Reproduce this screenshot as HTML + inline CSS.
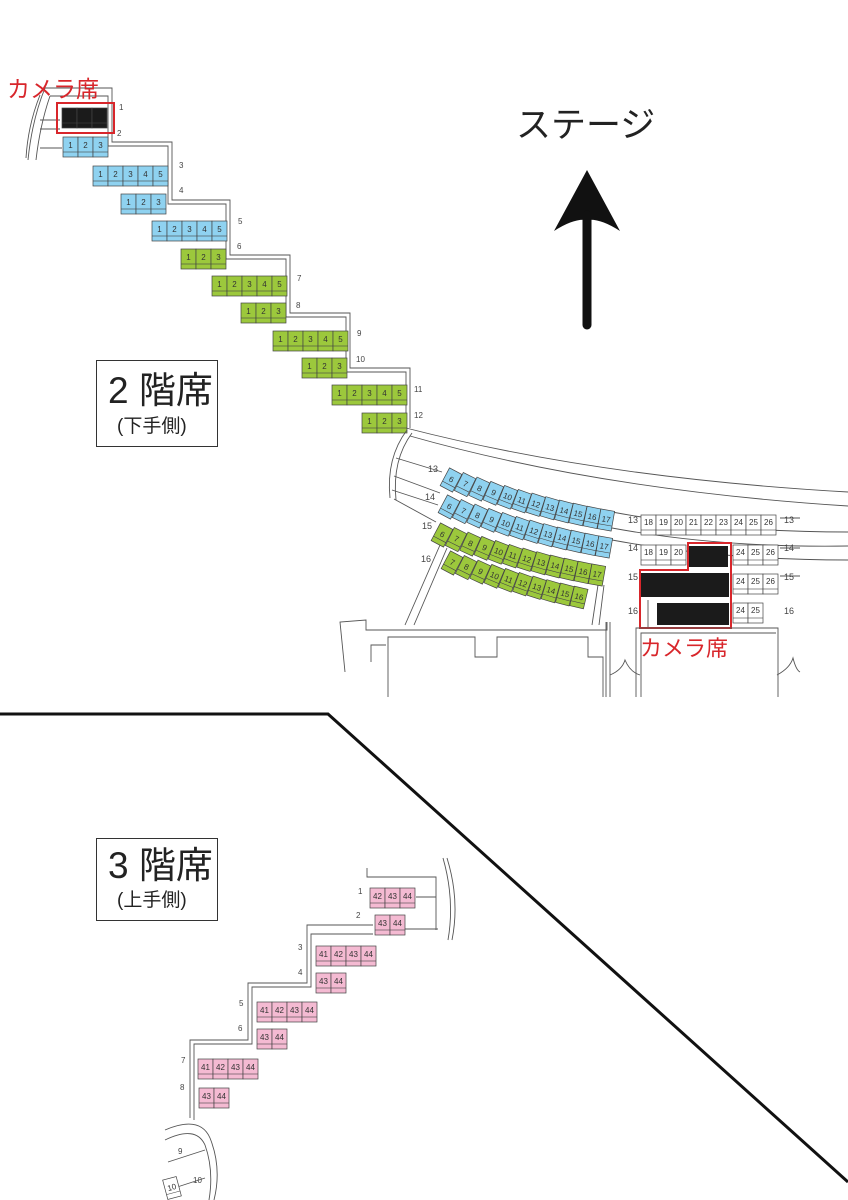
<!DOCTYPE html>
<html><head><meta charset="utf-8"><style>
html,body{margin:0;padding:0;background:#fff}
svg{display:block}
text{font-family:"Liberation Sans","Noto Sans CJK JP",sans-serif}
.s text{font-size:8px;fill:#333;text-anchor:middle}
.b{fill:#8fd2f0}.g{fill:#9cc83c}.p{fill:#f4bad2}.w{fill:#fff}.k{fill:#1b1b1b}
.ln{fill:none;stroke:#555;stroke-width:.9}
.lb{font-size:8px;fill:#444}
</style></head><body>
<svg width="848" height="1200" viewBox="0 0 848 1200" xmlns="http://www.w3.org/2000/svg">
<defs>
<g id="st"><rect x="0" y="0" width="15" height="20" stroke="#444" stroke-width=".7"/><path d="M0 15H15" stroke="#444" stroke-width=".6" fill="none"/></g>
<g id="sc"><rect x="-7" y="-10" width="14" height="20" stroke="#444" stroke-width=".7"/><path d="M-7 5H7" stroke="#444" stroke-width=".6" fill="none"/></g>
</defs>

<path class="ln" d="M44 88H112V142H172V200H230V255H290V313H350V368H410V428"/>
<path class="ln" d="M50 96H108V146H168V204H226V259H286V317H346V372H406V432"/>
<path class="ln" d="M45 88Q32 120 28 160M40 95Q28 125 26 158M50 96Q40 125 36 160"/>
<path class="ln" d="M40 120H60M40 129H60M40 148H62"/>

<text x="7" y="97" font-size="23" fill="#d8262b">カメラ席</text>

<g class="s k"><use href="#st" x="62" y="108"/><use href="#st" x="77" y="108"/><use href="#st" x="92" y="108"/></g>
<rect x="57" y="103" width="57" height="30" fill="none" stroke="#d8262b" stroke-width="2"/>
<g class="s b">
<g transform="translate(63,137)"><use href="#st"/><text x="7.5" y="11">1</text></g>
<g transform="translate(78,137)"><use href="#st"/><text x="7.5" y="11">2</text></g>
<g transform="translate(93,137)"><use href="#st"/><text x="7.5" y="11">3</text></g>
<g transform="translate(93,166)"><use href="#st"/><text x="7.5" y="11">1</text></g>
<g transform="translate(108,166)"><use href="#st"/><text x="7.5" y="11">2</text></g>
<g transform="translate(123,166)"><use href="#st"/><text x="7.5" y="11">3</text></g>
<g transform="translate(138,166)"><use href="#st"/><text x="7.5" y="11">4</text></g>
<g transform="translate(153,166)"><use href="#st"/><text x="7.5" y="11">5</text></g>
<g transform="translate(121,194)"><use href="#st"/><text x="7.5" y="11">1</text></g>
<g transform="translate(136,194)"><use href="#st"/><text x="7.5" y="11">2</text></g>
<g transform="translate(151,194)"><use href="#st"/><text x="7.5" y="11">3</text></g>
<g transform="translate(152,221)"><use href="#st"/><text x="7.5" y="11">1</text></g>
<g transform="translate(167,221)"><use href="#st"/><text x="7.5" y="11">2</text></g>
<g transform="translate(182,221)"><use href="#st"/><text x="7.5" y="11">3</text></g>
<g transform="translate(197,221)"><use href="#st"/><text x="7.5" y="11">4</text></g>
<g transform="translate(212,221)"><use href="#st"/><text x="7.5" y="11">5</text></g>
</g>
<g class="s g">
<g transform="translate(181,249)"><use href="#st"/><text x="7.5" y="11">1</text></g>
<g transform="translate(196,249)"><use href="#st"/><text x="7.5" y="11">2</text></g>
<g transform="translate(211,249)"><use href="#st"/><text x="7.5" y="11">3</text></g>
<g transform="translate(212,276)"><use href="#st"/><text x="7.5" y="11">1</text></g>
<g transform="translate(227,276)"><use href="#st"/><text x="7.5" y="11">2</text></g>
<g transform="translate(242,276)"><use href="#st"/><text x="7.5" y="11">3</text></g>
<g transform="translate(257,276)"><use href="#st"/><text x="7.5" y="11">4</text></g>
<g transform="translate(272,276)"><use href="#st"/><text x="7.5" y="11">5</text></g>
<g transform="translate(241,303)"><use href="#st"/><text x="7.5" y="11">1</text></g>
<g transform="translate(256,303)"><use href="#st"/><text x="7.5" y="11">2</text></g>
<g transform="translate(271,303)"><use href="#st"/><text x="7.5" y="11">3</text></g>
<g transform="translate(273,331)"><use href="#st"/><text x="7.5" y="11">1</text></g>
<g transform="translate(288,331)"><use href="#st"/><text x="7.5" y="11">2</text></g>
<g transform="translate(303,331)"><use href="#st"/><text x="7.5" y="11">3</text></g>
<g transform="translate(318,331)"><use href="#st"/><text x="7.5" y="11">4</text></g>
<g transform="translate(333,331)"><use href="#st"/><text x="7.5" y="11">5</text></g>
<g transform="translate(302,358)"><use href="#st"/><text x="7.5" y="11">1</text></g>
<g transform="translate(317,358)"><use href="#st"/><text x="7.5" y="11">2</text></g>
<g transform="translate(332,358)"><use href="#st"/><text x="7.5" y="11">3</text></g>
<g transform="translate(332,385)"><use href="#st"/><text x="7.5" y="11">1</text></g>
<g transform="translate(347,385)"><use href="#st"/><text x="7.5" y="11">2</text></g>
<g transform="translate(362,385)"><use href="#st"/><text x="7.5" y="11">3</text></g>
<g transform="translate(377,385)"><use href="#st"/><text x="7.5" y="11">4</text></g>
<g transform="translate(392,385)"><use href="#st"/><text x="7.5" y="11">5</text></g>
<g transform="translate(362,413)"><use href="#st"/><text x="7.5" y="11">1</text></g>
<g transform="translate(377,413)"><use href="#st"/><text x="7.5" y="11">2</text></g>
<g transform="translate(392,413)"><use href="#st"/><text x="7.5" y="11">3</text></g>
</g>
<g class="lb">
<text x="119" y="110">1</text><text x="117" y="136">2</text><text x="179" y="168">3</text><text x="179" y="193">4</text>
<text x="238" y="224">5</text><text x="237" y="249">6</text><text x="297" y="281">7</text><text x="296" y="308">8</text>
<text x="357" y="336">9</text><text x="356" y="362">10</text><text x="414" y="392">11</text><text x="414" y="418">12</text>
</g>

<text x="516" y="137" font-size="35" fill="#222">ステージ</text>
<path d="M587 170L620 231Q600 218 587 220Q574 218 554 231Z" fill="#111"/>
<line x1="587" y1="215" x2="587" y2="325" stroke="#111" stroke-width="9" stroke-linecap="round"/>

<rect x="96.5" y="360.5" width="121" height="86" fill="#fff" stroke="#333" stroke-width="1"/>
<text x="108" y="403" font-size="37" fill="#222">2 階席</text>
<text x="117" y="432" font-size="19" fill="#222">(下手側)</text>

<path class="ln" d="M406 428Q600 478 848 492"/>
<path class="ln" d="M410 436Q600 490 848 506"/>
<path class="ln" d="M407 430Q386 458 390 498M412 433Q392 460 396 500"/>
<path class="ln" d="M396 458L442 472M394 476L440 493M392 490L438 505M394 499L436 522"/>
<path class="ln" d="M612 512Q720 532 848 532M612 540Q720 560 848 560M612 528Q720 548 848 546"/>
<path class="ln" d="M780 518H800M780 548H800M780 576H800"/>
<path class="ln" d="M440 545L405 625M447 548L414 625M598 585L592 625M604 585L599 625"/>

<g class="s b">
<g transform="translate(451,480) rotate(28)"><use href="#sc"/><text y="2">6</text></g>
<g transform="translate(465.1,484.6) rotate(26.4)"><use href="#sc"/><text y="2">7</text></g>
<g transform="translate(479.2,489.1) rotate(24.7)"><use href="#sc"/><text y="2">8</text></g>
<g transform="translate(493.3,493.3) rotate(23.1)"><use href="#sc"/><text y="2">9</text></g>
<g transform="translate(507.4,497.3) rotate(21.5)"><use href="#sc"/><text y="2">10</text></g>
<g transform="translate(521.5,501.2) rotate(19.8)"><use href="#sc"/><text y="2">11</text></g>
<g transform="translate(535.6,504.8) rotate(18.2)"><use href="#sc"/><text y="2">12</text></g>
<g transform="translate(549.7,508.2) rotate(16.5)"><use href="#sc"/><text y="2">13</text></g>
<g transform="translate(563.8,511.5) rotate(14.9)"><use href="#sc"/><text y="2">14</text></g>
<g transform="translate(577.9,514.5) rotate(13.3)"><use href="#sc"/><text y="2">15</text></g>
<g transform="translate(592,517.4) rotate(11.6)"><use href="#sc"/><text y="2">16</text></g>
<g transform="translate(606,520) rotate(10)"><use href="#sc"/><text y="2">17</text></g>
<g transform="translate(449,507) rotate(28)"><use href="#sc"/><text y="2">6</text></g>
<g transform="translate(463.1,511.6) rotate(26.4)"><use href="#sc"/><text y="2">7</text></g>
<g transform="translate(477.2,516.1) rotate(24.7)"><use href="#sc"/><text y="2">8</text></g>
<g transform="translate(491.3,520.3) rotate(23.1)"><use href="#sc"/><text y="2">9</text></g>
<g transform="translate(505.4,524.3) rotate(21.5)"><use href="#sc"/><text y="2">10</text></g>
<g transform="translate(519.5,528.2) rotate(19.8)"><use href="#sc"/><text y="2">11</text></g>
<g transform="translate(533.6,531.8) rotate(18.2)"><use href="#sc"/><text y="2">12</text></g>
<g transform="translate(547.7,535.2) rotate(16.5)"><use href="#sc"/><text y="2">13</text></g>
<g transform="translate(561.8,538.5) rotate(14.9)"><use href="#sc"/><text y="2">14</text></g>
<g transform="translate(575.9,541.5) rotate(13.3)"><use href="#sc"/><text y="2">15</text></g>
<g transform="translate(590,544.4) rotate(11.6)"><use href="#sc"/><text y="2">16</text></g>
<g transform="translate(604,547) rotate(10)"><use href="#sc"/><text y="2">17</text></g>
</g>
<g class="s g">
<g transform="translate(442,535) rotate(28)"><use href="#sc"/><text y="2">6</text></g>
<g transform="translate(456.1,539.6) rotate(26.4)"><use href="#sc"/><text y="2">7</text></g>
<g transform="translate(470.2,544.1) rotate(24.7)"><use href="#sc"/><text y="2">8</text></g>
<g transform="translate(484.3,548.3) rotate(23.1)"><use href="#sc"/><text y="2">9</text></g>
<g transform="translate(498.4,552.3) rotate(21.5)"><use href="#sc"/><text y="2">10</text></g>
<g transform="translate(512.5,556.2) rotate(19.8)"><use href="#sc"/><text y="2">11</text></g>
<g transform="translate(526.6,559.8) rotate(18.2)"><use href="#sc"/><text y="2">12</text></g>
<g transform="translate(540.7,563.2) rotate(16.5)"><use href="#sc"/><text y="2">13</text></g>
<g transform="translate(554.8,566.5) rotate(14.9)"><use href="#sc"/><text y="2">14</text></g>
<g transform="translate(568.9,569.5) rotate(13.3)"><use href="#sc"/><text y="2">15</text></g>
<g transform="translate(583,572.4) rotate(11.6)"><use href="#sc"/><text y="2">16</text></g>
<g transform="translate(597,575) rotate(10)"><use href="#sc"/><text y="2">17</text></g>
<g transform="translate(452,563) rotate(28)"><use href="#sc"/><text y="2">7</text></g>
<g transform="translate(466.1,567.6) rotate(26.4)"><use href="#sc"/><text y="2">8</text></g>
<g transform="translate(480.2,572.1) rotate(24.7)"><use href="#sc"/><text y="2">9</text></g>
<g transform="translate(494.3,576.3) rotate(23.1)"><use href="#sc"/><text y="2">10</text></g>
<g transform="translate(508.4,580.3) rotate(21.5)"><use href="#sc"/><text y="2">11</text></g>
<g transform="translate(522.5,584.2) rotate(19.8)"><use href="#sc"/><text y="2">12</text></g>
<g transform="translate(536.6,587.8) rotate(18.2)"><use href="#sc"/><text y="2">13</text></g>
<g transform="translate(550.7,591.2) rotate(16.5)"><use href="#sc"/><text y="2">14</text></g>
<g transform="translate(564.8,594.5) rotate(14.9)"><use href="#sc"/><text y="2">15</text></g>
<g transform="translate(578.9,597.5) rotate(13.3)"><use href="#sc"/><text y="2">16</text></g>
</g>
<g class="lb">
<text x="428" y="472" font-size="9">13</text><text x="425" y="500" font-size="9">14</text>
<text x="422" y="529" font-size="9">15</text><text x="421" y="562" font-size="9">16</text>
<text x="628" y="523" font-size="9">13</text><text x="784" y="523" font-size="9">13</text>
<text x="628" y="551" font-size="9">14</text><text x="784" y="551" font-size="9">14</text>
<text x="628" y="580" font-size="9">15</text><text x="784" y="580" font-size="9">15</text>
<text x="628" y="614" font-size="9">16</text><text x="784" y="614" font-size="9">16</text>
</g>

<g class="s w">
<g transform="translate(641,515)"><use href="#st"/><text x="7.5" y="10">18</text></g>
<g transform="translate(656,515)"><use href="#st"/><text x="7.5" y="10">19</text></g>
<g transform="translate(671,515)"><use href="#st"/><text x="7.5" y="10">20</text></g>
<g transform="translate(686,515)"><use href="#st"/><text x="7.5" y="10">21</text></g>
<g transform="translate(701,515)"><use href="#st"/><text x="7.5" y="10">22</text></g>
<g transform="translate(716,515)"><use href="#st"/><text x="7.5" y="10">23</text></g>
<g transform="translate(731,515)"><use href="#st"/><text x="7.5" y="10">24</text></g>
<g transform="translate(746,515)"><use href="#st"/><text x="7.5" y="10">25</text></g>
<g transform="translate(761,515)"><use href="#st"/><text x="7.5" y="10">26</text></g>
<g transform="translate(641,545)"><use href="#st"/><text x="7.5" y="10">18</text></g>
<g transform="translate(656,545)"><use href="#st"/><text x="7.5" y="10">19</text></g>
<g transform="translate(671,545)"><use href="#st"/><text x="7.5" y="10">20</text></g>
<g transform="translate(733,545)"><use href="#st"/><text x="7.5" y="10">24</text></g>
<g transform="translate(748,545)"><use href="#st"/><text x="7.5" y="10">25</text></g>
<g transform="translate(763,545)"><use href="#st"/><text x="7.5" y="10">26</text></g>
<g transform="translate(733,574)"><use href="#st"/><text x="7.5" y="10">24</text></g>
<g transform="translate(748,574)"><use href="#st"/><text x="7.5" y="10">25</text></g>
<g transform="translate(763,574)"><use href="#st"/><text x="7.5" y="10">26</text></g>
<g transform="translate(733,603)"><use href="#st"/><text x="7.5" y="10">24</text></g>
<g transform="translate(748,603)"><use href="#st"/><text x="7.5" y="10">25</text></g>
</g>
<rect x="688" y="546" width="40" height="21" fill="#1b1b1b"/>
<rect x="641" y="573" width="88" height="24" fill="#1b1b1b"/>
<rect x="657" y="603" width="72" height="22" fill="#1b1b1b"/>
<path class="ln" d="M648 600V628"/>
<path d="M688 543H731V628H640V570H688Z" fill="none" stroke="#d8262b" stroke-width="2"/>
<text x="640" y="656" font-size="22" fill="#d8262b">カメラ席</text>

<path class="ln" d="M345 672L340 622L366 620L366 630H607V622"/>
<path class="ln" d="M388 697V637H475V657H497V637H588V657H603V697"/>
<path class="ln" d="M371 662V645H386M606 622V697M610 622V697"/>
<path class="ln" d="M636 697V628H778V697M641 697V633H776"/>
<path class="ln" d="M610 675Q622 670 625 660Q630 672 640 675M777 675Q790 668 793 658Q796 670 800 672"/>

<polyline points="0,714 328,714 848,1182" fill="none" stroke="#111" stroke-width="3"/>

<rect x="96.5" y="838.5" width="121" height="82" fill="#fff" stroke="#333" stroke-width="1"/>
<text x="108" y="878" font-size="37" fill="#222">3 階席</text>
<text x="117" y="906" font-size="19" fill="#222">(上手側)</text>

<path class="ln" d="M367 868V877H436V930M373 925H307V983H248V1040H190V1118"/>
<path class="ln" d="M373 934H311V987H252V1044H194V1120"/>
<path class="ln" d="M443 858Q455 900 448 940M447 858Q460 900 452 940M416 897H436M405 929H438"/>
<path class="ln" d="M165 1130Q200 1115 210 1138Q222 1168 214 1200M165 1140Q196 1125 205 1145Q214 1170 209 1200M168 1162L205 1150M168 1190L205 1178"/>
<text x="178" y="1154" class="lb" font-size="9">9</text>
<text x="193" y="1183" class="lb" font-size="9">10</text>
<g class="s w"><g transform="translate(172,1188) rotate(-15)"><use href="#sc"/><text y="2">10</text></g></g>

<g class="s p">
<g transform="translate(370,888)"><use href="#st"/><text x="7.5" y="11">42</text></g>
<g transform="translate(385,888)"><use href="#st"/><text x="7.5" y="11">43</text></g>
<g transform="translate(400,888)"><use href="#st"/><text x="7.5" y="11">44</text></g>
<g transform="translate(375,915)"><use href="#st"/><text x="7.5" y="11">43</text></g>
<g transform="translate(390,915)"><use href="#st"/><text x="7.5" y="11">44</text></g>
<g transform="translate(316,946)"><use href="#st"/><text x="7.5" y="11">41</text></g>
<g transform="translate(331,946)"><use href="#st"/><text x="7.5" y="11">42</text></g>
<g transform="translate(346,946)"><use href="#st"/><text x="7.5" y="11">43</text></g>
<g transform="translate(361,946)"><use href="#st"/><text x="7.5" y="11">44</text></g>
<g transform="translate(316,973)"><use href="#st"/><text x="7.5" y="11">43</text></g>
<g transform="translate(331,973)"><use href="#st"/><text x="7.5" y="11">44</text></g>
<g transform="translate(257,1002)"><use href="#st"/><text x="7.5" y="11">41</text></g>
<g transform="translate(272,1002)"><use href="#st"/><text x="7.5" y="11">42</text></g>
<g transform="translate(287,1002)"><use href="#st"/><text x="7.5" y="11">43</text></g>
<g transform="translate(302,1002)"><use href="#st"/><text x="7.5" y="11">44</text></g>
<g transform="translate(257,1029)"><use href="#st"/><text x="7.5" y="11">43</text></g>
<g transform="translate(272,1029)"><use href="#st"/><text x="7.5" y="11">44</text></g>
<g transform="translate(198,1059)"><use href="#st"/><text x="7.5" y="11">41</text></g>
<g transform="translate(213,1059)"><use href="#st"/><text x="7.5" y="11">42</text></g>
<g transform="translate(228,1059)"><use href="#st"/><text x="7.5" y="11">43</text></g>
<g transform="translate(243,1059)"><use href="#st"/><text x="7.5" y="11">44</text></g>
<g transform="translate(199,1088)"><use href="#st"/><text x="7.5" y="11">43</text></g>
<g transform="translate(214,1088)"><use href="#st"/><text x="7.5" y="11">44</text></g>
</g>
<g class="lb">
<text x="358" y="894">1</text><text x="356" y="918">2</text><text x="298" y="950">3</text><text x="298" y="975">4</text>
<text x="239" y="1006">5</text><text x="238" y="1031">6</text><text x="181" y="1063">7</text><text x="180" y="1090">8</text>
</g>
</svg>
</body></html>
